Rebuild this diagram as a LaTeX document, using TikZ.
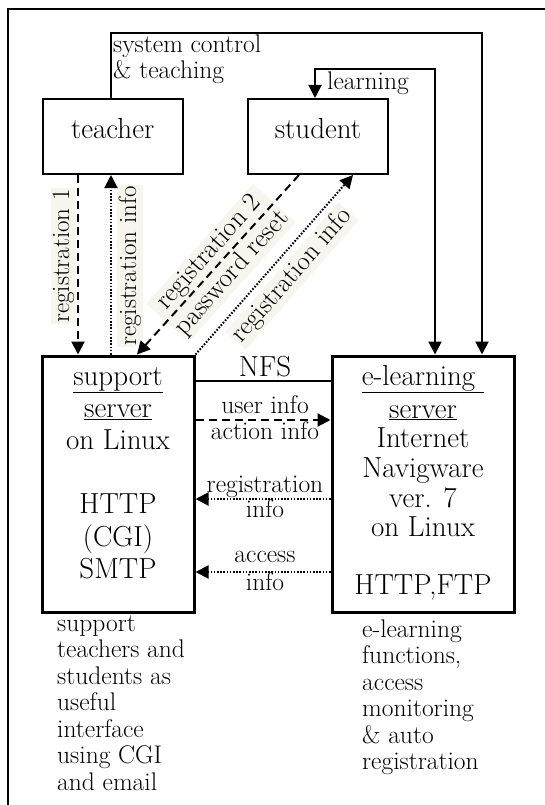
\documentclass[tikz,border=0pt]{standalone}
\usepackage{fontspec}
\usetikzlibrary{arrows.meta,calc}
\definecolor{labelbg}{RGB}{246,245,238}
\begin{document}
\begin{tikzpicture}[x=1pt,y=1pt,
  actor/.style={draw,line width=2pt,minimum width=140pt,minimum height=75pt,inner sep=0pt,
    text height=20pt,text depth=16.4pt,font=\fontsize{29}{32}\selectfont},
  server/.style={draw,line width=3pt,minimum height=256pt,inner sep=0pt},
  conn/.style={line width=2pt},
  tip/.style={-{Triangle[length=13pt,width=13pt]}},
  dashln/.style={dash pattern=on 8pt off 5pt},
  dotln/.style={dash pattern=on 1.6pt off 1.6pt},
  txt/.style={inner sep=0pt},
  bigtxt/.style={txt,font=\fontsize{29}{32.2}\selectfont},
  smalltxt/.style={txt,font=\fontsize{25.5}{26.5}\selectfont},
  lbl/.style={fill=labelbg,inner sep=1.5pt,font=\fontsize{25}{25}\selectfont},
]
\useasboundingbox (0,0) rectangle (545,-805);
% outer frame
\draw[line width=2pt] (7.6,-812) -- (7.6,-9.3) -- (552,-9.3);

% boxes
\node[actor] (teacher) at (112.7,-136.5) {teacher};
\node[actor] (student) at (318,-136.5) {student};
\node[server,minimum width=152pt] (support) at (118,-484) {};
\node[server,minimum width=182pt] (elearn) at (423,-484) {};

% box texts
\node[bigtxt,anchor=base] (supporttext) at (118,-385) {\begin{tabular}[t]{@{}c@{}}\smash{\underline{support}}\\\smash{\underline{server}}\\on Linux\\ \\HTTP\\(CGI)\\SMTP\end{tabular}};
\node[txt,font=\fontsize{29}{29.7}\selectfont,anchor=base] (elearntext) at (423,-385) {\begin{tabular}[t]{@{}c@{}}\smash{\underline{e-learning\ }}\\[3.3pt]\smash{\underline{server}}\\Internet\\Navigware\\ver. 7\\on Linux\\[27.5pt]HTTP,FTP\end{tabular}};

% descriptions
\node[smalltxt,anchor=base west] (supportdesc) at (57,-631) {\begin{tabular}[t]{@{}l@{}}support\\teachers and\\students as\\useful\\interface\\using CGI\\and email\end{tabular}};
\node[smalltxt,anchor=base west] (elearndesc) at (362,-637) {\begin{tabular}[t]{@{}l@{}}e-learning\\functions,\\access\\monitoring\\\& auto\\registration\end{tabular}};

% top labels
\node[txt,font=\fontsize{25.5}{24}\selectfont,anchor=base west] (sysctl) at (113,-53) {\begin{tabular}[t]{@{}l@{}}system control\\\& teaching\end{tabular}};
\node[smalltxt,anchor=base west] (learnlbl) at (327,-90) {learning};

% rotated labels (under the connectors)
\node[lbl,rotate=90] (reg1lbl) at (63.5,-256) {registration 1};
\node[lbl,rotate=90] (reginfolbl) at (130,-266) {registration info};
\node[lbl,font=\fontsize{27}{31}\selectfont,rotate=48.3,align=center] (reg2lbl) at (221,-263) {registration 2\\password reset};
\node[lbl,font=\fontsize{26.5}{26.5}\selectfont,rotate=48.9] (reg3lbl) at (292,-276) {registration info};

% middle labels
\node[bigtxt,anchor=base] (nfslbl) at (265,-376) {NFS};
\node[txt,font=\fontsize{25.5}{26}\selectfont,anchor=base] (uilbl) at (265,-413) {\begin{tabular}[t]{@{}c@{}}user info\\action info\end{tabular}};
\node[txt,font=\fontsize{25.5}{25}\selectfont,anchor=base] (rilbl) at (265,-492) {\begin{tabular}[t]{@{}c@{}}registration\\info\end{tabular}};
\node[txt,font=\fontsize{25.5}{28}\selectfont,anchor=base] (ailbl) at (265,-562) {\begin{tabular}[t]{@{}c@{}}access\\info\end{tabular}};

% connectors
\draw[conn,tip] ($(teacher.north)+(-1.7,0)$) -- ++(0,65) -| ($(elearn.north)+(59,0)$);
\draw[conn,{Triangle[length=13pt,width=13pt]}-{Triangle[length=13pt,width=13pt]}] ($(student.north)+(-3,0)$) -- ++(0,29) -| ($(elearn.north)+(12,0)$);

\draw[conn,dashln,tip] ($(teacher.south)+(-34.7,0)$) coordinate (r1) -- (r1 |- support.north);
\draw[conn,dotln,tip] ($(support.north)+(-7,0)$) coordinate (ri) -- (ri |- teacher.south);
\draw[conn,dashln,tip] ($(student.south)+(-19,0)$) -- ($(support.north)+(19,0)$);
\draw[conn,dotln,tip] (support.north east) -- ($(student.south)+(35,0)$);

\draw[conn] ($(support.north east)+(0,-26.5)$) coordinate (nf) -- (nf -| elearn.west);
\draw[conn,dashln,tip] ($(support.north east)+(0,-65.5)$) coordinate (ua) -- (ua -| elearn.west);
\draw[conn,dotln,tip] ($(elearn.north west)+(0,-144.5)$) coordinate (ra) -- (ra -| support.east);
\draw[conn,dotln,tip] ($(elearn.north west)+(0,-217.5)$) coordinate (aa) -- (aa -| support.east);
\end{tikzpicture}
\end{document}
